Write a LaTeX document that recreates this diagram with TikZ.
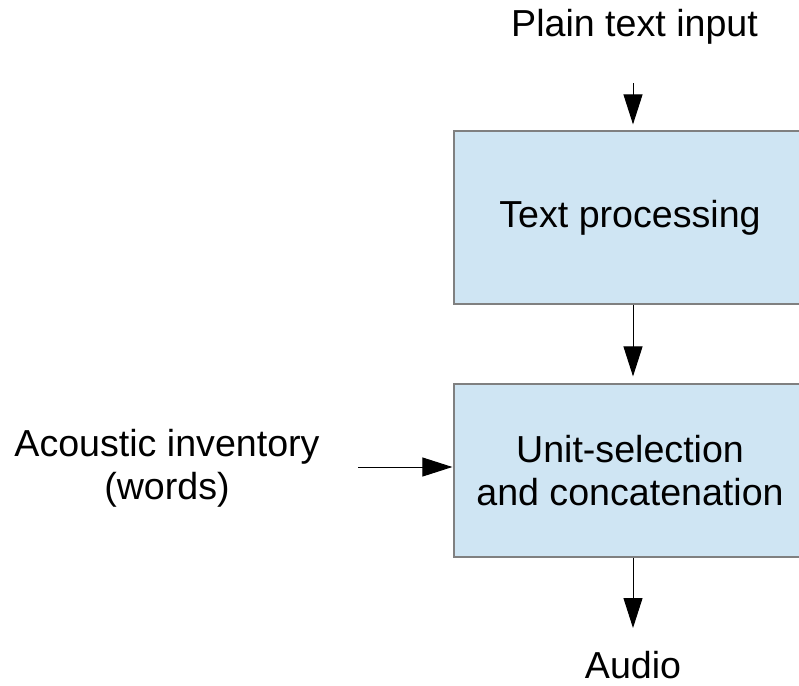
\documentclass[tikz,border=0pt]{standalone}
\usepackage{fontspec}
\setmainfont{Liberation Sans}
\usetikzlibrary{arrows.meta}
\begin{document}
\begin{tikzpicture}[x=1pt,y=-1pt,
  stage/.style={draw=black!50, line width=1.2pt, fill=stagefill,
    minimum width=352pt, minimum height=173pt, align=center, inner sep=0pt},
  label/.style={align=center, inner sep=0pt},
  flow/.style={line width=1pt, -{Triangle[length=30pt,width=19pt]}},
  every node/.style={font=\fontsize{37.6}{43}\selectfont}]
\definecolor{stagefill}{HTML}{CFE5F3}
\useasboundingbox (0,0) rectangle (799,685);
\clip (0,0) rectangle (799,685);
\node[stage] (proc) at (630,217.5) {Text processing};
\node[stage] (unit) at (630,470.5) {Unit-selection\\and concatenation};
\node[label, anchor=base] (plain) at (634.5,37) {Plain text input};
\node[label] (inv) at (167,468) {Acoustic inventory\\(words)};
\node[label, anchor=base] (audio) at (633,678) {Audio};
\coordinate (invend) at (358,467);
\draw[flow, shorten >=6pt] (633,83) -- ([xshift=3pt]proc.north);
\draw[flow, shorten >=7pt] ([xshift=3pt]proc.south) -- ([xshift=3pt]unit.north);
\draw[flow, shorten >=1pt] (invend) -- (unit.west |- invend);
\draw[flow] ([xshift=3pt]unit.south) -- (633,628);
\end{tikzpicture}
\end{document}
